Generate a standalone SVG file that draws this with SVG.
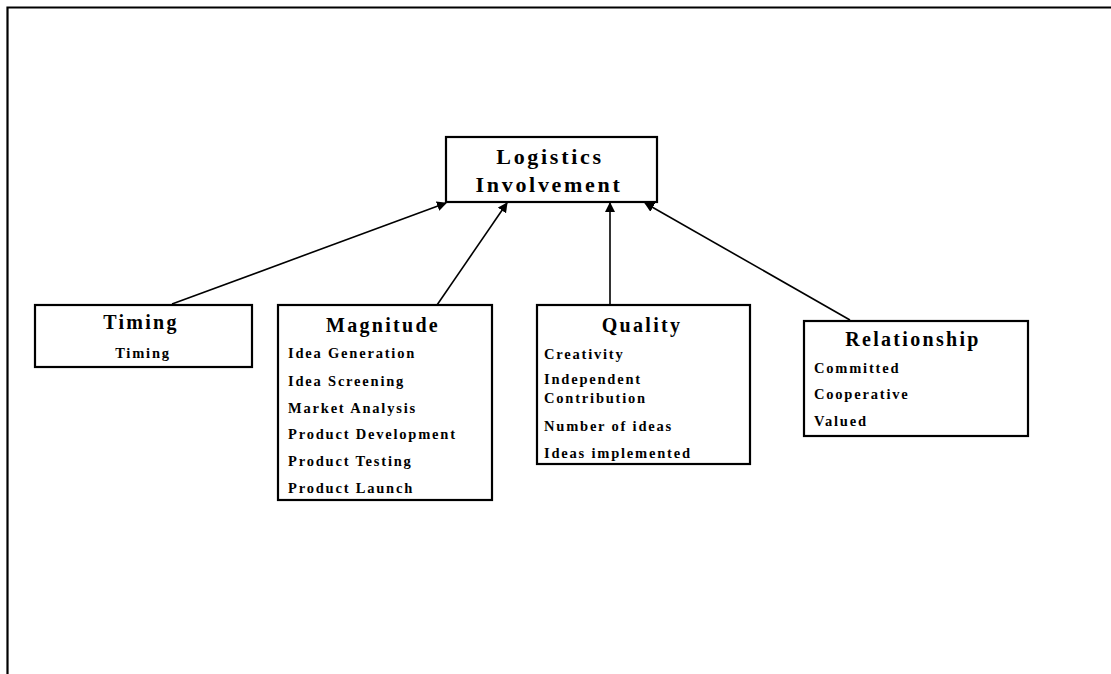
<svg xmlns="http://www.w3.org/2000/svg" width="1111" height="674" viewBox="0 0 1111 674">
  <style>
    .box { fill: #fff; stroke: #000; stroke-width: 2.2; }
    .frame { fill: none; stroke: #000; stroke-width: 2.2; }
    .edge { fill: none; stroke: #000; stroke-width: 1.6; }
    text { font-family: "Liberation Serif", "Times New Roman", serif; font-weight: bold; fill: #000; }
    .main { font-size: 22px; letter-spacing: 2.7px; text-anchor: middle; }
    .head { font-size: 20px; letter-spacing: 2.3px; text-anchor: middle; }
    .item { font-size: 14.5px; letter-spacing: 1.8px; }
  </style>
  <defs>
    <marker id="arrow" markerWidth="10" markerHeight="10" refX="9" refY="5" orient="auto" markerUnits="userSpaceOnUse">
      <path d="M0,0 L10,5 L0,10 Z" fill="#000"/>
    </marker>
  </defs>

  <rect width="1111" height="674" fill="#fff"/>

  <!-- page frame: top and left rules -->
  <path class="frame" d="M7.5,674 L7.5,7.5 L1111,7.5"/>

  <!-- connectors -->
  <g id="connectors">
    <line class="edge" x1="172" y1="304" x2="446" y2="203" marker-end="url(#arrow)"/>
    <line class="edge" x1="437" y1="305" x2="507" y2="203" marker-end="url(#arrow)"/>
    <line class="edge" x1="610" y1="305" x2="610" y2="203" marker-end="url(#arrow)"/>
    <line class="edge" x1="850" y1="320" x2="645" y2="203" marker-end="url(#arrow)"/>
  </g>

  <g id="logistics-involvement">
    <rect class="box" x="446" y="137" width="211" height="65"/>
    <text class="main" x="550" y="164">Logistics</text>
    <text class="main" x="549" y="192">Involvement</text>
  </g>

  <g id="timing">
    <rect class="box" x="35" y="305" width="217" height="62"/>
    <text class="head" x="141" y="329">Timing</text>
    <text class="item" x="143" y="358" text-anchor="middle">Timing</text>
  </g>

  <g id="magnitude">
    <rect class="box" x="278" y="305" width="214" height="195"/>
    <text class="head" x="383" y="332">Magnitude</text>
    <text class="item" x="288" y="358">Idea Generation</text>
    <text class="item" x="288" y="386">Idea Screening</text>
    <text class="item" x="288" y="413">Market Analysis</text>
    <text class="item" x="288" y="439">Product Development</text>
    <text class="item" x="288" y="466">Product Testing</text>
    <text class="item" x="288" y="493">Product Launch</text>
  </g>

  <g id="quality">
    <rect class="box" x="537" y="305" width="213" height="159"/>
    <text class="head" x="642" y="332">Quality</text>
    <text class="item" x="544" y="359">Creativity</text>
    <text class="item" x="544" y="384">Independent</text>
    <text class="item" x="544" y="403">Contribution</text>
    <text class="item" x="544" y="431">Number of ideas</text>
    <text class="item" x="544" y="458">Ideas implemented</text>
  </g>

  <g id="relationship">
    <rect class="box" x="804" y="321" width="224" height="115"/>
    <text class="head" x="913" y="346">Relationship</text>
    <text class="item" x="814" y="373">Committed</text>
    <text class="item" x="814" y="399">Cooperative</text>
    <text class="item" x="814" y="426">Valued</text>
  </g>
</svg>
